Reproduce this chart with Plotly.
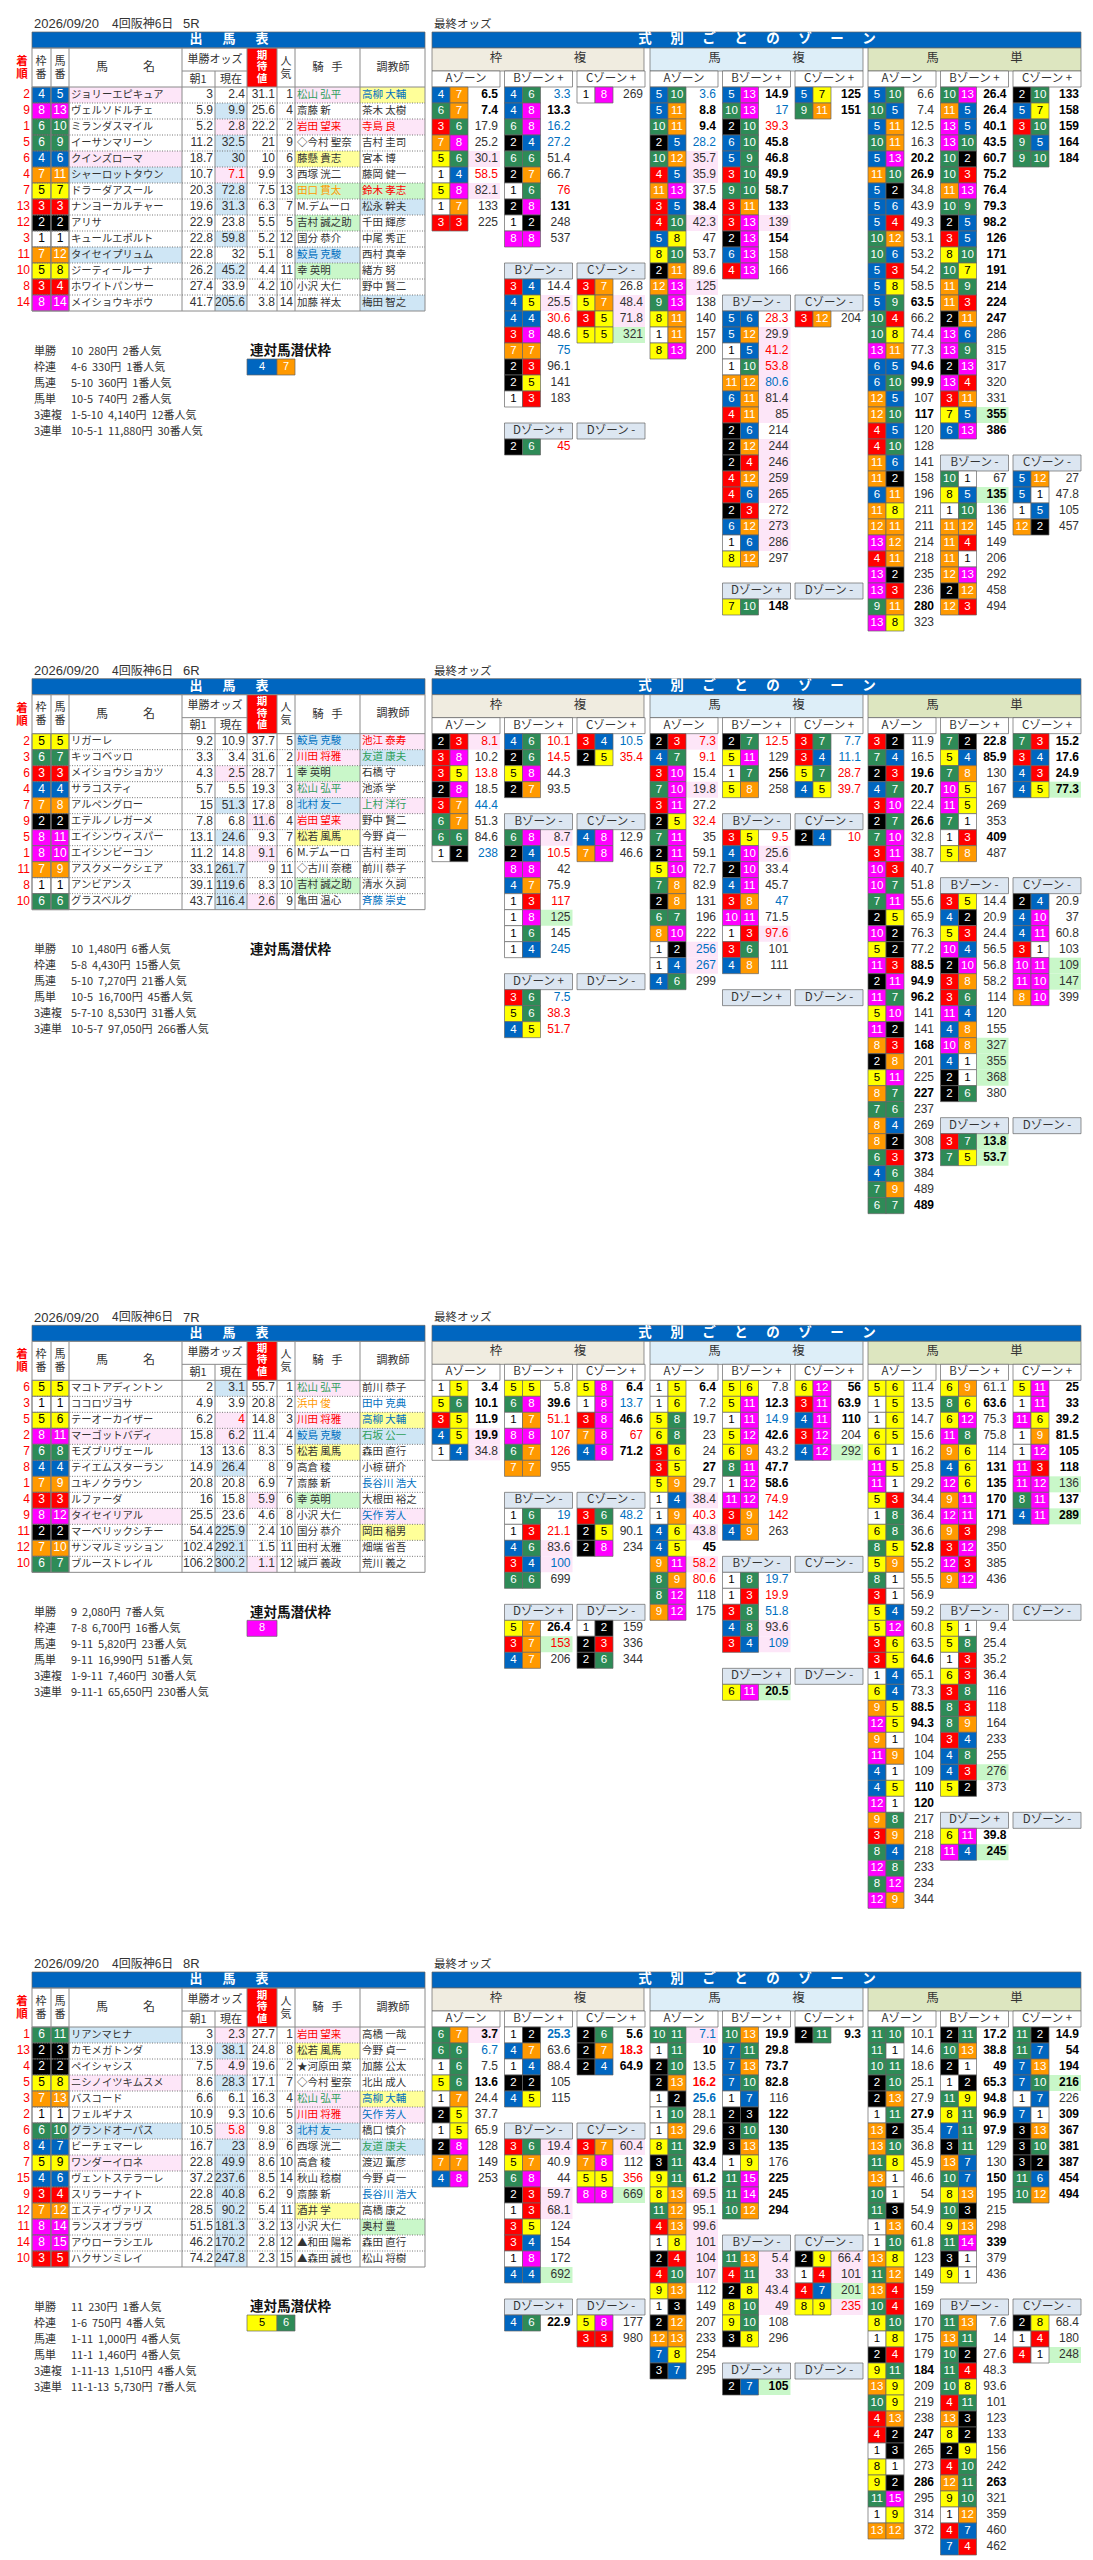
import plotly.graph_objects as go

# entry tables
r5_rank = [2, 9, 1, 5, 6, 4, 7, 13, 12, 3, 11, 10, 8, 14]
r5_waku = [4, 8, 6, 6, 4, 7, 5, 3, 2, 1, 7, 5, 3, 8]
r5_uma = [5, 13, 10, 9, 6, 11, 7, 3, 2, 1, 12, 8, 4, 14]
r5_name = ["ジョリーエピキュア", "ヴェルソドルチェ", "ミランダスマイル", "イーサンマリーン", "クインズローマ", "シャーロットタウン", "ドラーダアスール", "ナンヨーカルチャー", "アリサ", "キュールエポルト", "タイセイプリュム", "ジーティールーナ", "ホワイトパンサー", "メイショウキボウ"]
r5_asa = [3, 5.9, 5.2, 11.2, 18.7, 10.7, 20.3, 19.6, 22.9, 22.8, 22.8, 26.2, 27.4, 41.7]
r5_now = [2.4, 9.9, 2.8, 32.5, 30, 7.1, 72.8, 31.3, 23.8, 59.8, 32, 45.2, 33.9, 205.6]
r5_kitai = [31.1, 25.6, 22.2, 21, 10, 9.9, 7.5, 6.3, 5.5, 5.2, 5.1, 4.4, 4.2, 3.8]
r5_ninki = [1, 4, 2, 9, 6, 3, 13, 7, 5, 12, 8, 11, 10, 14]
r5_jockey = ["松山 弘平", "斎藤 新", "岩田 望来", "◇今村 聖奈", "藤懸 貴志", "西塚 洸二", "田口 貫太", "M.デムーロ", "吉村 誠之助", "国分 恭介", "鮫島 克駿", "幸 英明", "小沢 大仁", "加藤 祥太"]
r5_trainer = ["高柳 大輔", "茶木 太樹", "寺島 良", "吉村 圭司", "宮本 博", "藤岡 健一", "鈴木 孝志", "松永 幹夫", "千田 輝彦", "中尾 秀正", "西村 真幸", "緒方 努", "野中 賢二", "梅田 智之"]
r5_pay_combo = ["10", "4-6", "5-10", "10-5", "1-5-10", "10-5-1"]
r5_pay_yen = ["280円", "330円", "360円", "740円", "4,140円", "11,880円"]
r5_pay_pop = ["2番人気", "1番人気", "1番人気", "2番人気", "12番人気", "30番人気"]
r5_hidden = [4, 7]

r6_rank = [2, 3, 6, 4, 7, 9, 5, 1, 11, 8, 10]
r6_waku = [5, 6, 3, 4, 7, 2, 8, 8, 7, 1, 6]
r6_uma = [5, 7, 3, 4, 8, 2, 11, 10, 9, 1, 6]
r6_name = ["リガーレ", "キッコベッロ", "メイショウショカツ", "サラコスティ", "アルペングロー", "エテルノレガーメ", "エイシンウィスパー", "エイシンビーコン", "アスクメークシェア", "アンビアンス", "グラスベルグ"]
r6_asa = [9.2, 3.3, 4.3, 5.7, 15, 7.8, 13.1, 11.2, 33.1, 39.1, 43.7]
r6_now = [10.9, 3.4, 2.5, 5.5, 51.3, 6.8, 24.6, 14.8, 261.7, 119.6, 116.4]
r6_kitai = [37.7, 31.6, 28.7, 19.3, 17.8, 11.6, 9.3, 9.1, 9, 8.3, 2.6]
r6_ninki = [5, 2, 1, 3, 8, 4, 7, 6, 11, 10, 9]
r6_jockey = ["鮫島 克駿", "川田 将雅", "幸 英明", "松山 弘平", "北村 友一", "岩田 望来", "松若 風馬", "M.デムーロ", "◇古川 奈穂", "吉村 誠之助", "亀田 温心"]
r6_trainer = ["池江 泰寿", "友道 康夫", "石橋 守", "池添 学", "上村 洋行", "野中 賢二", "今野 貞一", "吉村 圭司", "前川 恭子", "清水 久詞", "斉藤 崇史"]
r6_pay_combo = ["10", "5-8", "5-10", "10-5", "5-7-10", "10-5-7"]
r6_pay_yen = ["1,480円", "4,430円", "7,270円", "16,700円", "8,530円", "97,050円"]
r6_pay_pop = ["6番人気", "15番人気", "21番人気", "45番人気", "31番人気", "266番人気"]
r6_hidden = []

r7_rank = [6, 3, 5, 2, 7, 8, 1, 4, 9, 11, 12, 10]
r7_waku = [5, 1, 5, 8, 6, 4, 7, 3, 8, 2, 7, 6]
r7_uma = [5, 1, 6, 11, 8, 4, 9, 3, 12, 2, 10, 7]
r7_name = ["マコトアディントン", "ココロヅヨサ", "テーオーカイザー", "マーゴットバディ", "モズブリヴェール", "テイエムスターラン", "ユキノクラウン", "ルファーダ", "タイセイリアル", "マーベリックシチー", "サンマルミッション", "ブルーストレイル"]
r7_asa = [2, 4.9, 6.2, 15.8, 13, 14.9, 20.8, 16, 25.5, 54.4, 102.4, 106.2]
r7_now = [3.1, 3.9, 4, 6.2, 13.6, 26.4, 20.8, 15.8, 23.6, 225.9, 292.1, 300.2]
r7_kitai = [55.7, 20.8, 14.8, 11.4, 8.3, 8, 6.9, 5.9, 4.6, 2.4, 1.5, 1.1]
r7_ninki = [1, 2, 3, 4, 5, 9, 7, 6, 8, 10, 11, 12]
r7_jockey = ["松山 弘平", "浜中 俊", "川田 将雅", "鮫島 克駿", "松若 風馬", "高倉 稜", "斎藤 新", "幸 英明", "小沢 大仁", "国分 恭介", "田村 太雅", "城戸 義政"]
r7_trainer = ["前川 恭子", "田中 克典", "高柳 大輔", "石坂 公一", "森田 直行", "小椋 研介", "長谷川 浩大", "大根田 裕之", "矢作 芳人", "岡田 稲男", "畑端 省吾", "荒川 義之"]
r7_pay_combo = ["9", "7-8", "9-11", "9-11", "1-9-11", "9-11-1"]
r7_pay_yen = ["2,080円", "6,700円", "5,820円", "16,990円", "7,460円", "65,650円"]
r7_pay_pop = ["7番人気", "16番人気", "23番人気", "51番人気", "30番人気", "230番人気"]
r7_hidden = [8]

r8_rank = [1, 13, 4, 5, 3, 2, 6, 8, 7, 15, 9, 12, 11, 14, 10]
r8_waku = [6, 2, 2, 5, 7, 1, 6, 4, 5, 4, 3, 7, 8, 8, 3]
r8_uma = [11, 3, 2, 8, 13, 1, 10, 7, 9, 6, 4, 12, 14, 15, 5]
r8_name = ["リアンマヒナ", "カモメガトンダ", "ペイシャシス", "ニシノイツキムスメ", "バスコード", "フェルギナス", "グランドオーパス", "ビーチェマーレ", "ワンダーイロネ", "ヴェントステラーレ", "スリラーナイト", "エスティヴァリス", "ランスオブラヴ", "アウローラシエル", "ハクサンミレイ"]
r8_asa = [3, 13.9, 7.5, 8.6, 6.6, 10.9, 10.5, 16.7, 22.8, 37.2, 22.8, 28.5, 51.5, 46.2, 74.2]
r8_now = [2.3, 38.1, 4.9, 28.3, 6.1, 9.3, 5.8, 23, 49.9, 237.6, 40.8, 90.2, 181.3, 170.2, 247.8]
r8_kitai = [27.7, 24.8, 19.6, 17.1, 16.3, 10.6, 9.8, 8.9, 8.6, 8.5, 6.2, 5.4, 3.2, 2.8, 2.3]
r8_ninki = [1, 8, 2, 7, 4, 5, 3, 6, 10, 14, 9, 11, 13, 12, 15]
r8_jockey = ["岩田 望来", "松若 風馬", "★河原田 菜", "◇今村 聖奈", "松山 弘平", "川田 将雅", "北村 友一", "西塚 洸二", "高倉 稜", "秋山 稔樹", "斎藤 新", "酒井 学", "小沢 大仁", "▲和田 陽希", "▲森田 誠也"]
r8_trainer = ["高橋 一哉", "今野 貞一", "加藤 公太", "北出 成人", "高柳 大輔", "矢作 芳人", "橋口 慎介", "友道 康夫", "渡辺 薫彦", "今野 貞一", "長谷川 浩大", "高橋 康之", "奥村 豊", "森田 直行", "松山 将樹"]
r8_pay_combo = ["11", "1-6", "1-11", "11-1", "1-11-13", "11-1-13"]
r8_pay_yen = ["230円", "750円", "1,000円", "1,460円", "1,510円", "5,730円"]
r8_pay_pop = ["1番人気", "4番人気", "4番人気", "4番人気", "4番人気", "7番人気"]
r8_hidden = [5, 6]

pay_labels = ["単勝", "枠連", "馬連", "馬単", "3連複", "3連単"]

# zone data: w=枠複 u=馬複 t=馬単, a / bp / cp / bm / cm / dp / dm
r5_w_a_p = "4-7 6-7 3-6 7-8 5-6 1-4 5-8 1-7 3-3"
r5_w_a_o = [6.5, 7.4, 17.9, 25.2, 30.1, 58.5, 82.1, 133, 225]
r5_w_bp_p = "4-6 4-8 6-8 2-4 6-6 2-7 1-6 2-8 1-2 8-8"
r5_w_bp_o = [3.3, 13.3, 16.2, 27.2, 51.4, 66.7, 76, 131, 248, 537]
r5_w_cp_p = "1-8"
r5_w_cp_o = [269]
r5_w_bm_p = "3-4 4-5 4-4 3-8 7-7 2-3 2-5 1-3"
r5_w_bm_o = [14.4, 25.5, 30.6, 48.6, 75, 96.1, 141, 183]
r5_w_cm_p = "3-7 5-7 3-5 5-5"
r5_w_cm_o = [26.8, 48.4, 71.8, 321]
r5_w_dp_p = "2-6"
r5_w_dp_o = [45]
r5_w_dm_p = ""
r5_w_dm_o = []
r5_u_a_p = "5-10 5-11 10-11 2-5 10-12 4-5 11-13 3-5 4-10 5-8 8-10 2-11 12-13 9-13 8-11 1-11 8-13"
r5_u_a_o = [3.6, 8.8, 9.4, 28.2, 35.7, 35.9, 37.5, 38.4, 42.3, 47, 53.7, 89.6, 125, 138, 140, 157, 200]
r5_u_bp_p = "5-13 10-13 2-10 6-10 5-9 3-10 9-10 3-11 3-13 2-13 6-13 4-13"
r5_u_bp_o = [14.9, 17, 39.3, 45.8, 46.8, 49.9, 58.7, 133, 139, 154, 158, 166]
r5_u_cp_p = "5-7 9-11"
r5_u_cp_o = [125, 151]
r5_u_bm_p = "5-6 5-12 1-5 1-10 11-12 6-11 4-11 2-6 2-12 2-4 4-12 4-6 2-3 6-12 1-6 8-12"
r5_u_bm_o = [28.3, 29.9, 41.2, 53.8, 80.6, 81.4, 85, 214, 244, 246, 259, 265, 272, 273, 286, 297]
r5_u_cm_p = "3-12"
r5_u_cm_o = [204]
r5_u_dp_p = "7-10"
r5_u_dp_o = [148]
r5_u_dm_p = ""
r5_u_dm_o = []
r5_t_a_p = "5-10 10-5 5-11 10-11 5-13 11-10 5-2 5-6 5-4 10-12 10-6 5-3 5-8 5-9 10-4 10-8 13-11 6-5 6-10 12-5 12-10 4-5 4-10 11-6 11-2 6-11 11-8 12-11 13-12 4-11 13-2 13-3 9-11 13-8"
r5_t_a_o = [6.6, 7.4, 12.5, 16.3, 20.2, 26.9, 34.8, 43.9, 49.3, 53.1, 53.2, 54.2, 58.5, 63.5, 66.2, 74.4, 77.3, 94.6, 99.9, 107, 117, 120, 128, 141, 158, 196, 211, 211, 214, 218, 235, 236, 280, 323]
r5_t_bp_p = "10-13 11-5 13-5 13-10 10-2 10-3 11-13 10-9 2-5 3-5 8-10 10-7 11-9 11-3 2-11 13-6 13-9 2-13 13-4 3-11 7-5 6-13"
r5_t_bp_o = [26.4, 26.4, 40.1, 43.5, 60.7, 75.2, 76.4, 79.3, 98.2, 126, 171, 191, 214, 224, 247, 286, 315, 317, 320, 331, 355, 386]
r5_t_cp_p = "2-10 5-7 3-10 9-5 9-10"
r5_t_cp_o = [133, 158, 159, 164, 184]
r5_t_bm_p = "10-1 8-5 1-10 11-12 11-4 11-1 12-13 2-12 12-3"
r5_t_bm_o = [67, 135, 136, 145, 149, 206, 292, 458, 494]
r5_t_cm_p = "5-12 5-1 1-5 12-2"
r5_t_cm_o = [27, 47.8, 105, 457]

r6_w_a_p = "2-3 3-8 3-5 2-8 3-7 6-7 6-6 1-2"
r6_w_a_o = [8.1, 10.2, 13.8, 18.5, 44.4, 51.3, 84.6, 238]
r6_w_bp_p = "4-6 2-6 5-8 2-7"
r6_w_bp_o = [10.1, 14.5, 44.3, 93.5]
r6_w_cp_p = "3-4 2-5"
r6_w_cp_o = [10.5, 35.4]
r6_w_bm_p = "6-8 2-4 8-8 4-7 1-3 1-8 1-6 1-4"
r6_w_bm_o = [8.7, 10.5, 42, 75.9, 117, 125, 145, 245]
r6_w_cm_p = "4-8 7-8"
r6_w_cm_o = [12.9, 46.6]
r6_w_dp_p = "3-6 5-6 4-5"
r6_w_dp_o = [7.5, 38.3, 51.7]
r6_w_dm_p = ""
r6_w_dm_o = []
r6_u_a_p = "2-3 4-7 3-10 7-10 3-11 2-5 7-11 2-11 5-10 7-8 2-8 6-7 8-10 1-2 1-4 4-6"
r6_u_a_o = [7.3, 9.1, 15.4, 19.8, 27.2, 32.4, 35, 59.1, 72.7, 82.9, 131, 196, 222, 256, 267, 299]
r6_u_bp_p = "2-7 5-11 1-7 5-8"
r6_u_bp_o = [12.5, 129, 256, 258]
r6_u_cp_p = "3-7 3-4 5-7 4-5"
r6_u_cp_o = [7.7, 11.1, 28.7, 39.7]
r6_u_bm_p = "3-5 4-10 2-10 4-11 3-8 10-11 1-3 3-6 4-8"
r6_u_bm_o = [9.5, 25.6, 33.4, 45.7, 47, 71.5, 97.6, 101, 111]
r6_u_cm_p = "2-4"
r6_u_cm_o = [10]
r6_u_dp_p = ""
r6_u_dp_o = []
r6_u_dm_p = ""
r6_u_dm_o = []
r6_t_a_p = "3-2 7-4 2-3 4-7 3-10 2-7 7-10 3-11 10-3 10-7 7-11 2-5 10-2 5-2 11-3 2-11 11-7 5-10 11-2 8-3 2-8 5-11 8-7 7-6 8-4 8-2 6-3 4-6 7-9 6-7"
r6_t_a_o = [11.9, 16.5, 19.6, 20.7, 22.4, 26.6, 32.8, 38.7, 40.7, 51.8, 55.6, 65.9, 76.3, 77.2, 88.5, 94.9, 96.2, 141, 141, 168, 201, 225, 227, 237, 269, 308, 373, 384, 489, 489]
r6_t_bp_p = "7-2 5-4 7-8 10-5 11-5 7-1 1-3 5-8"
r6_t_bp_o = [22.8, 85.9, 130, 167, 269, 353, 409, 487]
r6_t_cp_p = "7-3 3-4 4-3 4-5"
r6_t_cp_o = [15.2, 17.6, 24.9, 77.3]
r6_t_bm_p = "3-5 4-2 5-3 10-4 2-10 3-8 3-6 11-4 4-8 10-8 4-1 2-1 2-6"
r6_t_bm_o = [14.4, 20.9, 24.4, 56.5, 56.8, 58.2, 114, 120, 155, 327, 355, 368, 380]
r6_t_cm_p = "2-4 4-10 4-11 3-1 10-11 11-10 8-10"
r6_t_cm_o = [20.9, 37, 60.8, 103, 109, 147, 399]
r6_t_dp_p = "3-7 7-5"
r6_t_dp_o = [13.8, 53.7]
r6_t_dm_p = ""
r6_t_dm_o = []

r7_w_a_p = "1-5 5-6 3-5 4-5 1-4"
r7_w_a_o = [3.4, 10.1, 11.9, 19.9, 34.8]
r7_w_bp_p = "5-5 6-8 1-7 8-8 6-7 7-7"
r7_w_bp_o = [5.8, 39.6, 51.1, 107, 126, 955]
r7_w_cp_p = "5-8 1-8 3-8 7-8 4-8"
r7_w_cp_o = [6.4, 13.7, 46.6, 67, 71.2]
r7_w_bm_p = "1-6 1-3 4-6 3-4 6-6"
r7_w_bm_o = [19, 21.1, 83.6, 100, 699]
r7_w_cm_p = "3-6 2-5 2-8"
r7_w_cm_o = [48.2, 90.1, 234]
r7_w_dp_p = "5-7 3-7 4-7"
r7_w_dp_o = [26.4, 153, 206]
r7_w_dm_p = "1-2 2-3 2-6"
r7_w_dm_o = [159, 336, 344]
r7_u_a_p = "1-5 1-6 5-8 6-8 3-6 3-5 5-9 1-4 1-9 4-6 4-5 9-11 8-9 8-12 9-12"
r7_u_a_o = [6.4, 7.2, 19.7, 23, 24, 27, 29.7, 38.4, 40.3, 43.8, 45, 58.2, 80.6, 118, 175]
r7_u_bp_p = "5-6 5-11 1-11 5-12 6-9 8-11 1-12 11-12 3-9 4-9"
r7_u_bp_o = [7.8, 12.3, 14.9, 42.6, 43.2, 47.7, 58.6, 74.9, 142, 263]
r7_u_cp_p = "6-12 3-11 4-11 3-12 4-12"
r7_u_cp_o = [56, 63.9, 110, 204, 292]
r7_u_bm_p = "1-8 1-3 3-8 4-8 3-4"
r7_u_bm_o = [19.7, 19.9, 51.8, 93.6, 109]
r7_u_cm_p = ""
r7_u_cm_o = []
r7_u_dp_p = "6-11"
r7_u_dp_o = [20.5]
r7_u_dm_p = ""
r7_u_dm_o = []
r7_t_a_p = "5-6 1-5 1-6 6-5 6-1 11-5 11-1 5-3 1-8 6-8 8-5 5-9 8-1 3-1 5-4 5-12 3-6 3-5 1-4 6-4 9-5 12-5 9-1 11-9 4-1 4-5 12-1 9-8 3-9 8-4 12-8 8-12 12-9"
r7_t_a_o = [11.4, 13.5, 14.7, 15.6, 16.2, 25.8, 29.2, 34.4, 36.4, 36.6, 52.8, 55.2, 55.5, 56.9, 59.2, 60.8, 63.5, 64.6, 65.1, 73.3, 88.5, 94.3, 104, 104, 109, 110, 120, 217, 218, 218, 233, 234, 344]
r7_t_bp_p = "6-9 8-6 6-12 11-8 9-6 4-6 12-6 9-11 12-11 9-3 3-12 12-3 9-12"
r7_t_bp_o = [61.1, 63.6, 75.3, 75.8, 114, 131, 135, 170, 171, 298, 350, 385, 436]
r7_t_cp_p = "5-11 1-11 11-6 1-9 1-12 11-3 11-12 8-11 4-11"
r7_t_cp_o = [25, 33, 39.2, 81.5, 105, 118, 136, 137, 289]
r7_t_bm_p = "5-1 5-8 1-3 6-3 3-8 8-3 8-9 3-4 4-8 4-3 5-2"
r7_t_bm_o = [9.4, 25.4, 35.2, 36.4, 116, 118, 164, 233, 255, 276, 373]
r7_t_cm_p = ""
r7_t_cm_o = []
r7_t_dp_p = "6-11 11-4"
r7_t_dp_o = [39.8, 245]
r7_t_dm_p = ""
r7_t_dm_o = []

r8_w_a_p = "6-7 6-6 1-6 5-6 1-7 2-5 1-5 2-8 7-7 4-8"
r8_w_a_o = [3.7, 6.7, 7.5, 13.6, 24.4, 37.7, 65.9, 128, 149, 253]
r8_w_bp_p = "1-2 4-7 1-4 2-2 4-5"
r8_w_bp_o = [25.3, 63.6, 88.4, 105, 115]
r8_w_cp_p = "2-6 2-7 2-4"
r8_w_cp_o = [5.6, 18.3, 64.9]
r8_w_bm_p = "3-6 5-7 6-8 2-3 1-3 3-5 3-4 1-8 4-4"
r8_w_bm_o = [19.4, 40.9, 44, 59.7, 68.1, 124, 154, 172, 692]
r8_w_cm_p = "3-7 7-8 5-5 8-8"
r8_w_cm_o = [60.4, 112, 356, 669]
r8_w_dp_p = "4-6"
r8_w_dp_o = [22.9]
r8_w_dm_p = "5-8 3-3"
r8_w_dm_o = [177, 980]
r8_u_a_p = "10-11 1-11 2-10 2-13 1-2 1-10 1-13 8-11 3-11 9-11 8-13 11-12 4-13 1-8 2-4 4-10 9-13 1-3 2-12 12-13 7-8 3-7"
r8_u_a_o = [7.1, 10, 13.5, 16.2, 25.6, 28.1, 29.6, 32.9, 43.4, 61.2, 69.5, 95.1, 99.6, 101, 104, 107, 112, 149, 207, 233, 254, 295]
r8_u_bp_p = "10-13 7-11 7-13 7-10 1-7 2-3 3-10 3-13 1-9 11-15 11-14 10-12"
r8_u_bp_o = [19.9, 29.8, 73.7, 82.8, 116, 122, 130, 135, 176, 225, 245, 294]
r8_u_cp_p = "2-11"
r8_u_cp_o = [9.3]
r8_u_bm_p = "11-13 4-11 2-8 8-10 9-10 3-8"
r8_u_bm_o = [5.4, 33, 43.4, 49, 108, 296]
r8_u_cm_p = "2-9 1-4 4-7 8-9"
r8_u_cm_o = [66.4, 101, 201, 235]
r8_u_dp_p = "2-7"
r8_u_dp_o = [105]
r8_u_dm_p = ""
r8_u_dm_o = []
r8_t_a_p = "11-10 11-1 10-11 2-10 2-13 1-11 13-2 13-10 11-8 13-1 10-1 11-3 1-13 1-10 13-8 11-12 13-4 10-4 8-10 1-8 2-4 9-11 13-9 10-9 4-13 4-2 1-3 8-1 9-2 11-15 1-9 13-12"
r8_t_a_o = [10.1, 14.6, 18.6, 25.1, 27.9, 27.9, 35.4, 36.8, 45.9, 46.6, 54, 54.9, 60.4, 61.8, 123, 149, 159, 169, 170, 175, 179, 184, 209, 219, 238, 247, 265, 273, 286, 295, 314, 372]
r8_t_bp_p = "2-11 10-13 2-1 1-2 11-9 8-11 7-11 3-11 13-7 10-7 8-13 10-3 9-13 11-14 3-1 9-1"
r8_t_bp_o = [17.2, 38.8, 49, 65.3, 94.8, 96.9, 97.9, 129, 130, 150, 195, 215, 298, 339, 379, 436]
r8_t_cp_p = "11-2 11-7 7-13 7-10 1-7 7-1 3-13 3-10 3-2 11-6 10-12"
r8_t_cp_o = [14.9, 54, 194, 216, 226, 309, 367, 381, 387, 454, 494]
r8_t_bm_p = "11-13 13-11 10-2 11-4 10-8 4-11 13-3 8-2 2-9 4-10 12-11 9-10 1-12 4-7 7-4"
r8_t_bm_o = [7.6, 14, 27.6, 48.3, 93.6, 101, 123, 133, 156, 242, 263, 321, 359, 460, 462]
r8_t_cm_p = "2-8 1-4 4-1"
r8_t_cm_o = [68.4, 180, 248]

# styles, kept apart from the values
STY = {
    "r5_name": "p...p b....b...".replace(" ", ""), "r5_now": ".bpbbRbb.b.b.b", "r5_kitai": "",
    "r6_name": "", "r6_now": "..p.b.b.bbb", "r6_kitai": ".....p.p..p",
    "r7_name": "...p....p...", "r7_now": "b.Rp.b...bbb", "r7_kitai": ".......p...p",
    "r8_name": "b..p..b.p", "r8_now": "pbpb..Rbbbbbbbb", "r8_kitai": "",
    "r5_w_a": "BB..prp..", "r5_w_bp": "bBbb..rB..", "r5_w_cp": ".", "r5_w_bm": ".pr.b...", "r5_w_cm": ".ppg", "r5_w_dp": "r",
    "r5_u_a": "bBBbpp.Bp...p....", "r5_u_bp": "BbrBBBBBpB..", "r5_u_cp": "BB", "r5_u_bm": "rpRRLpp.pppp.pp.", "r5_u_dp": "B",
    "r5_t_a": "....BB.......B...BB.B...........B.", "r5_t_bp": "BBBBBBBBBBBBBBB.....GB", "r5_t_cp": "BBBBB", "r5_t_bm": ".G",
    "r6_w_a": "R.r.b..b", "r6_w_bp": "rr..", "r6_w_cp": "br", "r6_w_bm": "pr..rg.b", "r6_w_dp": "brr",
    "r6_u_a": "Rr.p.r.......LL.", "r6_u_bp": "r.B.", "r6_u_cp": "bbrr", "r6_u_bm": "rp..b.R", "r6_u_cm": "r",
    "r6_t_a": "..BB.B........BBB..B..B...B..B", "r6_t_bp": "BB....B.", "r6_t_cp": "BBBG", "r6_t_bm": ".........ggg.", "r6_t_cm": "....gg.", "r6_t_dp": "GG",
    "r7_w_a": "BBBPp", "r7_w_bp": ".Brrr.", "r7_w_cp": "BbBrB", "r7_w_bm": "brpL.", "r7_w_cm": "b..", "r7_w_dp": "BS.",
    "r7_u_a": "B....B.prpBRr..", "r7_u_bp": ".BbB.BBrr.", "r7_u_cp": "BBB.g", "r7_u_bm": "brbpL", "r7_u_dp": "G",
    "r7_t_a": "..........B......B..BB...BB", "r7_t_bp": ".B...BBBB", "r7_t_cp": "BBBBBBgBG", "r7_t_bm": ".........g.", "r7_t_dp": "BG",
    "r8_w_a": "Pb.B", "r8_w_bp": "E", "r8_w_cp": "BDB", "r8_w_bm": "p..pp...g", "r8_w_cm": "p.rg", "r8_w_dp": "B",
    "r8_u_a": "LB.DE..BBBp.pppp", "r8_u_bp": "BBBB.BBB.BBB", "r8_u_cp": "B", "r8_u_bm": "pppp", "r8_u_cm": "ppgR", "r8_u_dp": "G",
    "r8_t_a": ".....B...............B...B..B", "r8_t_bp": "BBBBBBB..B...B", "r8_t_cp": "BBBG.BBBBBB", "r8_t_bm": "..........B", "r8_t_cm": "..g",
}

DARK = "#333333"
RED = "#ff0000"
BLUE = "#0070c0"
GREEN = "#2e9e5b"
ORANGE = "#ff9900"
PINK = "#fde6f8"
LBLUE = "#cfe6f5"
LGREEN = "#c9f7c9"
LYELLOW = "#ffff99"
BAR = "#0066c0"
GRID = "#8a8a8a"
HL = {"p": PINK, "b": LBLUE, "R": PINK}
ODDS = {".": (DARK, None, False), "B": ("#000000", None, True), "r": (RED, None, False), "b": (BLUE, None, False),
        "D": (RED, None, True), "E": (BLUE, None, True),
        "p": (DARK, PINK, False), "P": ("#000000", PINK, True), "R": (RED, PINK, False), "L": (BLUE, PINK, False),
        "g": (DARK, LGREEN, False), "G": ("#000000", LGREEN, True), "S": (RED, LGREEN, False)}
WAKU_BG = {1: "#ffffff", 2: "#000000", 3: "#ff0000", 4: "#0066c0", 5: "#ffff00", 6: "#2e8b57", 7: "#ff9900", 8: "#ff00ff"}
WAKU_FG = {1: "#000000", 5: "#000000"}
JOCKEY = {"松山 弘平": (GREEN, PINK), "岩田 望来": (RED, PINK), "鮫島 克駿": (BLUE, LBLUE), "川田 将雅": (RED, PINK),
          "幸 英明": (DARK, LGREEN), "藤懸 貴志": (DARK, LYELLOW), "田口 貫太": (ORANGE, LGREEN), "吉村 誠之助": (DARK, LGREEN),
          "北村 友一": (BLUE, LBLUE), "松若 風馬": (DARK, LYELLOW), "浜中 俊": (ORANGE, None), "酒井 学": (DARK, LYELLOW)}
TRAINER = {"高柳 大輔": (BLUE, LYELLOW), "寺島 良": (RED, PINK), "鈴木 孝志": (RED, LGREEN), "松永 幹夫": (DARK, LBLUE),
           "梅田 智之": (DARK, LBLUE), "池江 泰寿": (RED, PINK), "友道 康夫": (GREEN, LBLUE), "上村 洋行": (GREEN, PINK),
           "田中 克典": (BLUE, None), "石坂 公一": (GREEN, LBLUE), "長谷川 浩大": (BLUE, None), "矢作 芳人": (BLUE, PINK),
           "岡田 稲男": (DARK, LYELLOW), "斉藤 崇史": (BLUE, None), "奥村 豊": (DARK, LGREEN)}

JP = "Noto Sans CJK JP"
NUM = "Liberation Sans Narrow, Liberation Sans"
LAT = "Liberation Sans"
RIGHT, LEFT, MID = "middle left", "middle right", "middle center"
NB = "\u00a0\u00a0"

races = [5, 6, 7, 8]
race_gap = 646.67
first_top = 87
row_h = 16
cols = [32, 51, 69, 182, 215, 247, 277, 295, 360, 425]
sections = {"w": ("枠", "複", "#f0ece0", [432, 504.5, 577], 644),
            "u": ("馬", "複", "#ddeef8", [650, 722.5, 795], 863),
            "t": ("馬", "単", "#dde6c0", [868, 940.5, 1013], 1081)}

flat = {"x": [], "w": [], "y": [], "h": [], "c": []}
boxed = {"x": [], "w": [], "y": [], "h": [], "c": []}
tx, ty, ts, tc, tz, tb, tf, tp = [], [], [], [], [], [], [], []
solid_x, solid_y, dot_x, dot_y = [], [], [], []


def rect(x0, x1, y0, y1, color, box=False):
    d = boxed if box else flat
    d["x"].append(x0)
    d["w"].append(x1 - x0)
    d["y"].append((y0 + y1) / 2)
    d["h"].append(y1 - y0)
    d["c"].append(color)


def put(x, y, s, color=DARK, size=10.5, bold=False, pos=MID, fam=JP):
    tx.append(x)
    ty.append(y)
    ts.append(str(s))
    tc.append(color)
    tz.append(size)
    tb.append("bold" if bold else "normal")
    tf.append(fam)
    tp.append(pos)


def line(x0, y0, x1, y1, dotted=False):
    xs, ys = (dot_x, dot_y) if dotted else (solid_x, solid_y)
    xs.extend([x0, x1, None])
    ys.extend([y0, y1, None])


def code(s, i):
    return s[i] if i < len(s) else "."


def waku_cell(x0, x1, y0, waku, label, size=11.5):
    rect(x0, x1, y0, y0 + row_h, WAKU_BG[waku], box=True)
    put((x0 + x1) / 2, y0 + row_h / 2, label, WAKU_FG.get(waku, "#ffffff"), size, fam=NUM)


def zone_header(left, y0, text, minus):
    rect(left, left + 68, y0, y0 + row_h, "#dce6f1" if minus else "#ffffff", box=True)
    put(left + 34, y0 + row_h / 2, text, size=11.5)


def zone_rows(left, y0, key, frame):
    pairs = globals()[key + "_p"].split()
    odds = globals()[key + "_o"]
    sty = STY.get(key, "")
    for i, (pair, val) in enumerate(zip(pairs, odds)):
        a, b = [int(n) for n in pair.split("-")]
        y = y0 + i * row_h
        waku_cell(left, left + 18, y, frame(a), a)
        waku_cell(left + 18, left + 36, y, frame(b), b)
        fg, bg, bold = ODDS[code(sty, i)]
        if bg:
            rect(left + 36, left + 68, y, y + row_h, bg)
        put(left + 66, y + row_h / 2, val, fg, 12, bold, RIGHT, NUM)
    return len(pairs)


def draw_race(idx, race):
    g = globals()
    p = f"r{race}_"
    top = first_top + idx * race_gap
    n = len(g[p + "uma"])
    bottom = top + n * row_h
    bar_y0, bar_y1 = top - 55, top - 39

    # left table
    put(34, top - 62, "2026/09/20", size=13, pos=LEFT, fam=LAT)
    put(112, top - 62, "4回阪神6日", size=12, pos=LEFT)
    put(183, top - 62, f"{race}R", size=13, pos=LEFT, fam=LAT)
    rect(32, 425, bar_y0, bar_y1, BAR, box=True)
    for k, ch in enumerate("出馬表"):
        put(196 + k * 33, (bar_y0 + bar_y1) / 2, ch, "#ffffff", 13, True)
    rect(247, 277, bar_y1, top, RED)
    for k, ch in enumerate("期待値"):
        put(262, top - 31 + k * 11.5, ch, "#ffffff", 10.5, True)
    for k, ch in enumerate("着順"):
        put(22, top - 25 + k * 13, ch, RED, 11.5, True)
        put(41, top - 25 + k * 13, "枠番"[k], size=11)
        put(60, top - 25 + k * 13, "馬番"[k], size=11)
        put(286, top - 25 + k * 13, "人気"[k], size=11)
    put(102, top - 19, "馬", size=12)
    put(149, top - 19, "名", size=12)
    put(215, top - 27, "単勝オッズ", size=11)
    put(198, top - 7, "朝1", size=11)
    put(231, top - 7, "現在", size=11)
    put(318, top - 19, "騎", size=11.5)
    put(337, top - 19, "手", size=11.5)
    put(393, top - 19, "調教師", size=11)

    for i in range(n):
        y = top + i * row_h
        mid = y + row_h / 2
        w = g[p + "waku"][i]
        put(30, mid, g[p + "rank"][i], RED, 12, pos=RIGHT, fam=NUM)
        waku_cell(32, 51, y, w, w, 12)
        waku_cell(51, 69, y, w, g[p + "uma"][i], 12)
        name_c = code(STY[p + "name"], i)
        if name_c in HL:
            rect(69, 182, y, y + row_h, HL[name_c])
        put(71, mid, g[p + "name"][i], pos=LEFT, size=10.3)
        put(213, mid, g[p + "asa"][i], size=12, pos=RIGHT, fam=NUM)
        now_c = code(STY[p + "now"], i)
        if now_c in HL:
            rect(215, 247, y, y + row_h, HL[now_c])
        put(245, mid, g[p + "now"][i], RED if now_c == "R" else DARK, 12, pos=RIGHT, fam=NUM)
        kit_c = code(STY[p + "kitai"], i)
        if kit_c in HL:
            rect(247, 277, y, y + row_h, HL[kit_c])
        put(275, mid, g[p + "kitai"][i], size=12, pos=RIGHT, fam=NUM)
        put(293, mid, g[p + "ninki"][i], size=12, pos=RIGHT, fam=NUM)
        for name, table, x0, x1 in [(g[p + "jockey"][i], JOCKEY, 295, 360), (g[p + "trainer"][i], TRAINER, 360, 425)]:
            fg, bg = table.get(name, (DARK, None))
            if bg:
                rect(x0, x1, y, y + row_h, bg)
            put(x0 + 2, mid, name, fg, 10.5, pos=LEFT)
        if i:
            line(32, y, 425, y, True)

    for x in cols:
        line(x, bar_y1 if x not in (215,) else top - 16, x, bottom)
    line(32, top, 425, top)
    line(182, top - 16, 247, top - 16)
    line(32, bar_y1, 425, bar_y1)
    line(32, bottom, 425, bottom)

    # payouts and hidden frames
    y_pay = bottom + 41
    for i, label in enumerate(pay_labels):
        y = y_pay + i * row_h
        put(34, y, label, size=11, pos=LEFT)
        text = NB.join([g[p + "pay_combo"][i], g[p + "pay_yen"][i], g[p + "pay_pop"][i]])
        put(71, y, text, size=11, pos=LEFT)
    put(250, y_pay, "連対馬潜伏枠", "#111111", 13.5, True, LEFT)
    hidden_x = [(247, 277), (277, 295)]
    for (x0, x1), w in zip(hidden_x, g[p + "hidden"]):
        waku_cell(x0, x1, y_pay + 7, w, w, 11)

    # zone side
    put(434, top - 62, "最終オッズ", size=11.5, pos=LEFT)
    rect(432, 1081, bar_y0, bar_y1, BAR, box=True)
    for k, ch in enumerate("式別ごとのゾーン"):
        put(645 + k * 32, (bar_y0 + bar_y1) / 2, ch, "#ffffff", 13.5, True)

    horse_frame = dict(zip(g[p + "uma"], g[p + "waku"]))
    for sec, (c1, c2, fill, lefts, right) in sections.items():
        frame = (lambda v: v) if sec == "w" else (lambda v: horse_frame[v])
        rect(lefts[0], right, bar_y1, top - 16, fill, box=True)
        mid_x = (lefts[0] + right) / 2
        put(mid_x - 42, top - 28, c1, size=12.5)
        put(mid_x + 42, top - 28, c2, size=12.5)
        a, b, c = lefts
        zone_header(a, top - 16, "Aゾーン", False)
        zone_header(b, top - 16, "Bゾーン +", False)
        zone_header(c, top - 16, "Cゾーン +", False)
        pre = f"{p}{sec}_"
        zone_rows(a, top, pre + "a", frame)
        used_b = zone_rows(b, top, pre + "bp", frame)
        used_c = zone_rows(c, top, pre + "cp", frame)
        slot = max(used_b, used_c) + 1
        y = top + slot * row_h
        zone_header(b, y, "Bゾーン -", True)
        zone_header(c, y, "Cゾーン -", True)
        used_b = zone_rows(b, y + row_h, pre + "bm", frame)
        used_c = zone_rows(c, y + row_h, pre + "cm", frame)
        if pre + "dp_p" in g:
            slot += max(used_b, used_c) + 2
            y = top + slot * row_h
            zone_header(b, y, "Dゾーン +", True)
            zone_header(c, y, "Dゾーン -", True)
            zone_rows(b, y + row_h, pre + "dp", frame)
            zone_rows(c, y + row_h, pre + "dm", frame)


for idx, race in enumerate(races):
    draw_race(idx, race)

fig = go.Figure()
fig.add_trace(go.Bar(orientation="h", base=flat["x"], x=flat["w"], y=flat["y"], width=flat["h"],
                     marker=dict(color=flat["c"], line=dict(width=0)), hoverinfo="skip"))
fig.add_trace(go.Scatter(x=solid_x, y=solid_y, mode="lines", line=dict(color=GRID, width=1), hoverinfo="skip"))
fig.add_trace(go.Scatter(x=dot_x, y=dot_y, mode="lines", line=dict(color="#777777", width=1, dash="1px,1.5px"), hoverinfo="skip"))
fig.add_trace(go.Bar(orientation="h", base=boxed["x"], x=boxed["w"], y=boxed["y"], width=boxed["h"],
                     marker=dict(color=boxed["c"], line=dict(width=0.7, color="#666666")), hoverinfo="skip"))
fig.add_trace(go.Scatter(x=tx, y=ty, text=ts, mode="text", textposition=tp, hoverinfo="skip", cliponaxis=False,
                         textfont=dict(color=tc, size=tz, weight=tb, family=tf)))

fig.update_layout(width=1093, height=2560, margin=dict(l=0, r=0, t=0, b=0), barmode="overlay",
                  showlegend=False, paper_bgcolor="white", plot_bgcolor="white")
fig.update_xaxes(range=[0, 1093], visible=False)
fig.update_yaxes(range=[2560, 0], visible=False)

fig.write_html("out.html", config={"displayModeBar": False}, post_script="document.body.style.margin='0';")
